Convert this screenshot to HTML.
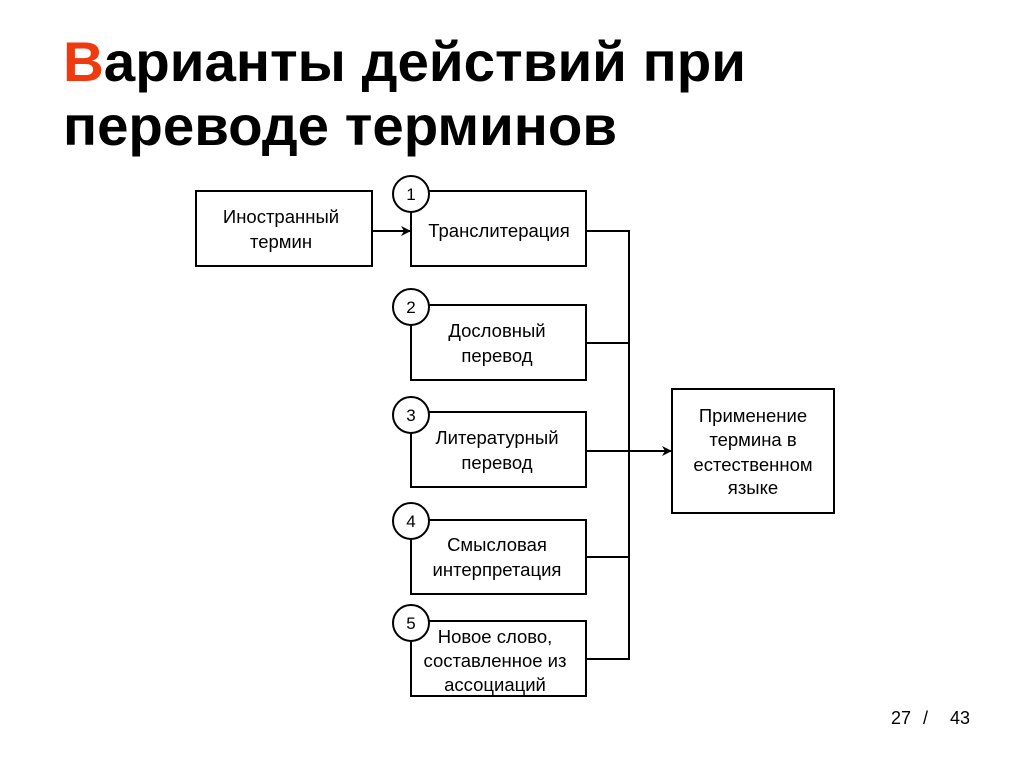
<!DOCTYPE html>
<html>
<head>
<meta charset="utf-8">
<style>
  html,body{margin:0;padding:0;background:#fff;}
  body{width:1024px;height:767px;overflow:hidden;}
  svg{display:block;}
  text{font-family:"Liberation Sans","DejaVu Sans",sans-serif;fill:#000;}
</style>
</head>
<body>
<svg width="1024" height="767" viewBox="0 0 1024 767" xmlns="http://www.w3.org/2000/svg">
  <defs>
    <marker id="ah" markerWidth="10" markerHeight="10" refX="9" refY="5" orient="auto" markerUnits="userSpaceOnUse">
      <path d="M0,0 L10,5 L0,10 L3,5 Z" fill="#000"/>
    </marker>
  </defs>

  <!-- Title -->
  <text x="63" y="81" font-size="56" font-weight="bold" textLength="683" lengthAdjust="spacingAndGlyphs"><tspan fill="#ee3a0e">В</tspan>арианты действий при</text>
  <text x="63" y="145" font-size="56" font-weight="bold" textLength="554" lengthAdjust="spacingAndGlyphs">переводе терминов</text>

  <g fill="#fff" stroke="#000" stroke-width="2">
    <!-- Left box -->
    <rect x="196" y="191" width="176" height="75"/>
    <!-- Option boxes -->
    <rect x="411" y="191" width="175" height="75"/>
    <rect x="411" y="305" width="175" height="75"/>
    <rect x="411" y="412" width="175" height="75"/>
    <rect x="411" y="520" width="175" height="74"/>
    <rect x="411" y="621" width="175" height="75"/>
    <!-- Right box -->
    <rect x="672" y="389" width="162" height="124"/>
  </g>

  <!-- Connectors -->
  <g stroke="#000" stroke-width="2" fill="none">
    <line x1="372" y1="231" x2="410" y2="231" marker-end="url(#ah)"/>
    <polyline points="586,231 629,231 629,659 586,659"/>
    <line x1="586" y1="343" x2="629" y2="343"/>
    <line x1="586" y1="557" x2="629" y2="557"/>
    <line x1="586" y1="451" x2="671" y2="451" marker-end="url(#ah)"/>
  </g>

  <!-- Number circles -->
  <g fill="#fff" stroke="#000" stroke-width="2">
    <circle cx="411" cy="194" r="18"/>
    <circle cx="411" cy="307" r="18"/>
    <circle cx="411" cy="415" r="18"/>
    <circle cx="411" cy="521" r="18"/>
    <circle cx="411" cy="623" r="18"/>
  </g>
  <g font-size="17" text-anchor="middle">
    <text x="411" y="200">1</text>
    <text x="411" y="313">2</text>
    <text x="411" y="421">3</text>
    <text x="411" y="527">4</text>
    <text x="411" y="629">5</text>
  </g>

  <!-- Box labels -->
  <g font-size="18.5" text-anchor="middle">
    <text x="281" y="223">Иностранный</text>
    <text x="281" y="248">термин</text>

    <text x="499" y="237">Транслитерация</text>

    <text x="497" y="337">Дословный</text>
    <text x="497" y="362">перевод</text>

    <text x="497" y="444">Литературный</text>
    <text x="497" y="469">перевод</text>

    <text x="497" y="551">Смысловая</text>
    <text x="497" y="576">интерпретация</text>

    <text x="495" y="643">Новое слово,</text>
    <text x="495" y="667">составленное из</text>
    <text x="495" y="691">ассоциаций</text>

    <text x="753" y="422">Применение</text>
    <text x="753" y="446">термина в</text>
    <text x="753" y="471">естественном</text>
    <text x="753" y="494">языке</text>
  </g>

  <!-- Page number -->
  <g font-size="18">
    <text x="891" y="724">27</text>
    <text x="923" y="724">/</text>
    <text x="950" y="724">43</text>
  </g>
</svg>
</body>
</html>
